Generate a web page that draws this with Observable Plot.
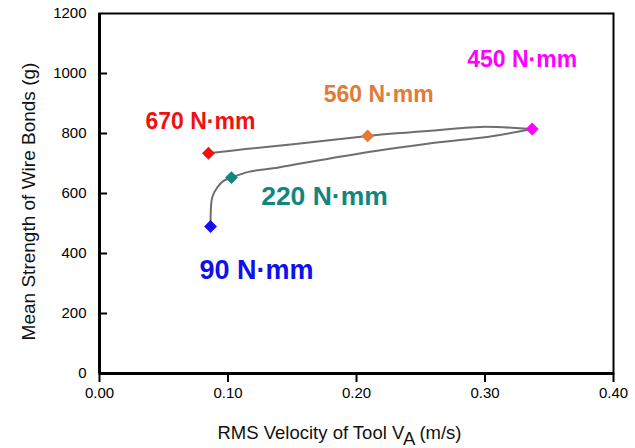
<!DOCTYPE html>
<html>
<head>
<meta charset="utf-8">
<script src="https://cdn.jsdelivr.net/npm/d3@7"></script>
<script src="https://cdn.jsdelivr.net/npm/@observablehq/plot@0.6"></script>
<style>
  html, body { margin: 0; padding: 0; background: #fff; }
  #chart svg { display: block; }
</style>
</head>
<body>
<div id="chart"></div>
<script>
// ---- data ----
const torques  = ["90 N·mm", "220 N·mm", "450 N·mm", "560 N·mm", "670 N·mm"];
const velocity = [0.0864, 0.1027, 0.3367, 0.2087, 0.0848];   // RMS velocity (m/s)
const strength = [490, 653, 815, 792, 734];                  // mean strength (g)

// fitted curve through the points
const curveBranch   = ["low","low","low","low","low","low","low","low","low","low","low","low","low",
                       "up","up","up","up","up","up","up","up"];
const curveVelocity = [0.0864, 0.0864, 0.0877, 0.0916, 0.0965, 0.1027, 0.1160, 0.1393, 0.1782, 0.2148, 0.2553, 0.3066, 0.3367,
                       0.3367, 0.2965, 0.2553, 0.2286, 0.2087, 0.1525, 0.1136, 0.0848];
const curveStrength = [490, 509, 587, 620, 642, 653, 672, 687, 716, 742, 766, 792, 815,
                       815, 822, 808, 800, 792, 765, 748, 734];

const xTicks = [0, 0.1, 0.2, 0.3, 0.4];
const yTicks = [0, 200, 400, 600, 800, 1000, 1200];
const xTitle = "RMS Velocity of Tool VA (m/s)";
const yTitle = "Mean Strength of Wire Bonds (g)";

// ---- styles ----
const pointColors = ["#1010ee", "#138580", "#ff00ff", "#e27a38", "#f01010"];
const labelStyle = [
  {dx: 46, dy: 44, size: 27},
  {dx: 93, dy: 19, size: 26.5},
  {dx: -10, dy: -69, size: 23},
  {dx: 11, dy: -41, size: 23},
  {dx: -8, dy: -32, size: 23}
];
const W = 635, H = 448, ML = 99, MR = 22, MT = 13, MB = 75;

const idx = d3.range(torques.length);
const cidx = d3.range(curveVelocity.length);

const labelMarks = idx.map(i => Plot.text([i], {
  x: j => velocity[j], y: j => strength[j], text: j => torques[j],
  dx: labelStyle[i].dx, dy: labelStyle[i].dy,
  fill: pointColors[i], fontSize: labelStyle[i].size, fontWeight: "bold",
  textAnchor: "middle", lineAnchor: "middle"
}));

const chart = Plot.plot({
  width: W, height: H,
  marginLeft: ML, marginRight: MR, marginTop: MT, marginBottom: MB,
  style: {fontFamily: "'Liberation Sans', Arial, Helvetica, sans-serif", fontSize: "15px", background: "#fff", color: "#000"},
  x: {domain: [0, 0.4]},
  y: {domain: [0, 1200]},
  marks: [
    Plot.axisX({ticks: xTicks, tickFormat: d3.format(".2f"), tickSize: 9, tickPadding: 5, strokeWidth: 2, label: null, fontSize: 15}),
    Plot.axisY({ticks: yTicks, tickFormat: d3.format("d"), tickSize: 0, tickPadding: 13, label: null, fontSize: 15}),
    // inward ticks on the y axis
    Plot.axisY({ticks: yTicks.filter(v => v > 0 && v < 1200), tickFormat: () => "", tickSize: 8, dx: 8, stroke: "#000", strokeWidth: 2, label: null}),
    Plot.frame({stroke: "#000", strokeWidth: 2}),
    Plot.ruleX([0], {strokeWidth: 3, stroke: "#000"}),
    Plot.ruleY([0], {strokeWidth: 3, stroke: "#000"}),
    Plot.line(cidx, {x: i => curveVelocity[i], y: i => curveStrength[i], z: i => curveBranch[i],
      curve: "catmull-rom", stroke: "#6e6e6e", strokeWidth: 2}),
    Plot.dot(idx, {x: i => velocity[i], y: i => strength[i], symbol: "diamond2", r: 5.8,
      fill: i => pointColors[i], stroke: "none"}),
    ...labelMarks,
    Plot.text([xTitle], {text: d => d, frameAnchor: "bottom", dx: -17, dy: 60, fontSize: 18.5,
      textAnchor: "middle", lineAnchor: "middle", fill: "#111"}),
    Plot.text([yTitle], {text: d => d, frameAnchor: "left", rotate: -90, dx: -71, dy: 8, fontSize: 19,
      textAnchor: "middle", lineAnchor: "middle", fill: "#111"})
  ]
});

// subscript "A" in the x-axis title
d3.select(chart).selectAll("text").filter(function() { return this.textContent === xTitle; })
  .each(function() {
    const t = d3.select(this);
    t.text(null);
    t.append("tspan").text("RMS Velocity of Tool V");
    t.append("tspan").attr("dy", 6).text("A");
    t.append("tspan").attr("dy", -6).text(" (m/s)");
  });

document.getElementById("chart").appendChild(chart);
</script>
</body>
</html>
